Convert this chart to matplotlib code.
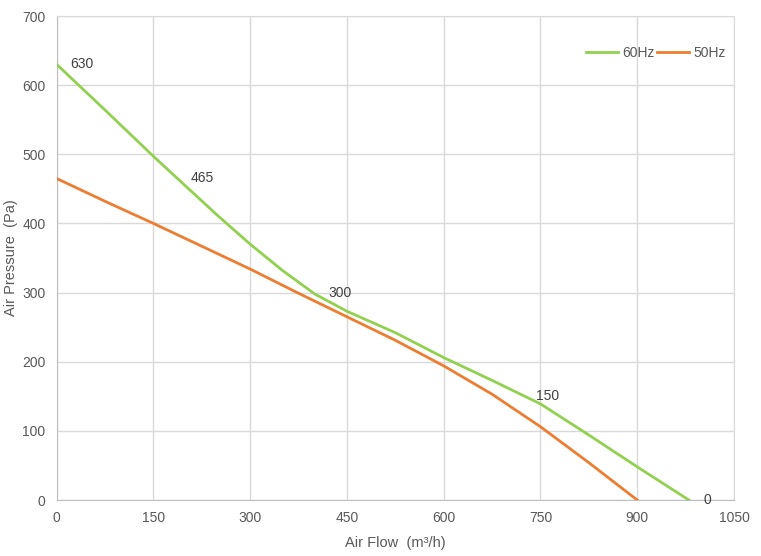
import matplotlib
matplotlib.use("Agg")
import matplotlib.pyplot as plt

# values
flow_60 = [0, 75, 150, 200, 250, 300, 350, 400, 450, 525, 600, 675, 750, 825, 900, 980]
pres_60 = [630, 564, 497, 454, 411, 370, 332, 298, 273, 242, 206, 173, 139, 94, 48, 0]

flow_50 = [0, 75, 150, 225, 300, 375, 450, 525, 600, 675, 750, 825, 900]
pres_50 = [465, 432, 400, 367, 334, 299, 265, 231, 194, 153, 106, 54, 0]

label_text = ["630", "465", "300", "150", "0"]
label_x = [21, 207, 421, 743, 1003]
label_y = [630, 465, 300, 150, 0]

x_ticks = [0, 150, 300, 450, 600, 750, 900, 1050]
y_ticks = [0, 100, 200, 300, 400, 500, 600, 700]

green = "#92d050"
orange = "#ed7d31"
grid_c = "#d9d9d9"
text_c = "#595959"

plt.rcParams["font.family"] = ["Liberation Sans", "DejaVu Sans"]

fig = plt.figure(figsize=(7.61, 5.56), dpi=100)
ax = fig.add_axes([0.0745, 0.1007, 0.8900, 0.8705])

ax.plot(flow_60, pres_60, color=green, lw=2, label="60Hz", zorder=3)
ax.plot(flow_50, pres_50, color=orange, lw=2, label="50Hz", zorder=3)

for t, x, y in zip(label_text, label_x, label_y):
    ax.text(x, y, t, fontsize=10, color="#404040", ha="left", va="center", zorder=4)

ax.set_xlim(0, 1050)
ax.set_ylim(0, 700)
ax.set_xticks(x_ticks)
ax.set_yticks(y_ticks)
ax.grid(True, color=grid_c, lw=1)
ax.set_axisbelow(True)
ax.tick_params(length=0, labelsize=10, labelcolor=text_c, pad=8)

for s in ["top", "right"]:
    ax.spines[s].set_color(grid_c)
for s in ["left", "bottom"]:
    ax.spines[s].set_color("#bfbfbf")

ax.set_xlabel("Air Flow  (m\u00b3/h)", fontsize=10.5, color=text_c, labelpad=8)
ax.set_ylabel("Air Pressure  (Pa)", fontsize=10.5, color=text_c, labelpad=3)

leg = ax.legend(loc="upper right", bbox_to_anchor=(1.004, 0.961), ncol=2, frameon=False,
                fontsize=10, handlelength=2.3, handletextpad=0.3, columnspacing=0.2,
                borderaxespad=0.4)
for t in leg.get_texts():
    t.set_color(text_c)

fig.savefig("out.png", dpi=100)
